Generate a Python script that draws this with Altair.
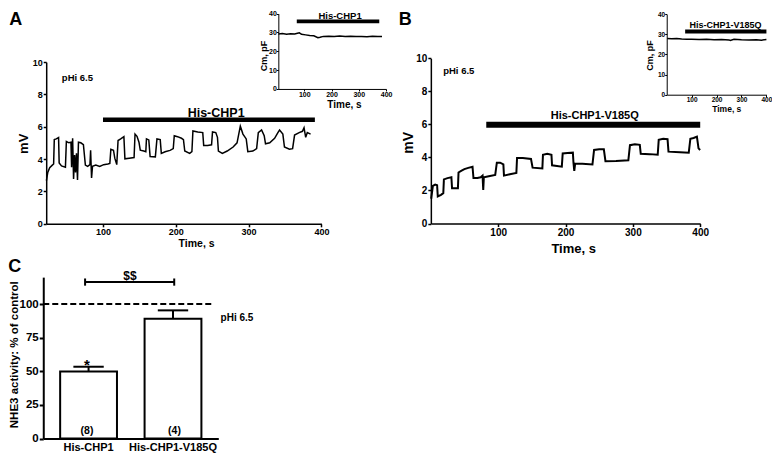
import altair as alt
import pandas as pd

# ---------------- data ----------------
# Panel A: membrane potential trace (time s, mV)
a_trace = [
    (22.3, 2.67), (24.1, 3.17), (26.8, 3.47), (30.4, 3.63), (32.2, 3.70), (33.1, 5.21), (35.8, 5.25), (39.0, 5.33), (39.8, 3.76), (43.0, 3.58),
    (48.4, 3.50), (49.7, 5.09), (53.3, 5.01), (56.0, 5.05), (56.9, 3.50), (58.3, 5.29), (59.6, 2.77), (61.0, 4.26), (62.3, 3.17), (63.6, 4.36),
    (65.0, 2.71), (66.3, 5.05), (69.5, 5.01), (73.1, 4.89), (75.8, 3.63), (78.9, 3.55), (82.1, 3.66), (83.0, 4.55), (84.3, 2.83), (85.6, 3.56),
    (90.1, 3.63), (95.5, 3.55), (100.9, 3.66), (106.7, 3.70), (109.4, 3.74), (110.8, 4.61), (114.4, 4.55), (116.2, 4.06), (118.9, 3.66), (120.7, 5.15),
    (124.3, 5.25), (128.7, 5.39), (130.1, 4.02), (136.0, 4.06), (142.7, 4.10), (144.0, 5.55), (146.7, 5.41), (149.4, 5.05), (151.2, 4.55), (156.1, 4.50),
    (158.8, 4.46), (159.7, 5.25), (162.9, 5.19), (164.7, 4.16), (171.9, 4.14), (174.1, 5.25), (178.6, 5.21), (180.1, 4.36), (185.3, 4.46), (192.1, 4.54),
    (196.5, 4.65), (197.9, 5.45), (202.4, 5.39), (207.8, 5.29), (210.5, 5.21), (212.3, 4.50), (219.0, 4.36), (222.1, 4.46), (223.5, 5.74), (230.2, 5.68),
    (237.0, 5.64), (238.3, 4.85), (243.7, 4.85), (249.1, 4.89), (250.4, 5.68), (254.9, 5.64), (257.2, 5.35), (258.5, 4.50), (263.9, 4.36), (270.6, 4.50),
    (278.7, 4.75), (284.1, 5.01), (288.6, 6.04), (292.2, 5.55), (296.7, 5.25), (298.9, 4.46), (305.7, 4.50), (311.0, 4.65), (313.3, 5.64), (317.8, 5.80),
    (321.4, 5.45), (323.2, 4.95), (329.0, 5.01), (335.7, 5.29), (340.2, 5.64), (342.5, 5.80), (347.0, 5.55), (349.2, 4.75), (356.0, 4.61), (360.4, 4.65),
    (363.1, 5.49), (369.4, 5.64), (373.9, 5.72), (376.1, 5.94), (378.4, 5.35), (380.6, 5.64), (385.1, 5.55),
]
# Panel A inset: membrane capacitance (time s, pF)
a_cm_time = [5, 20, 35, 50, 65, 75, 82, 90, 105, 120, 135, 150, 158, 170, 190, 210, 230, 250, 270, 290, 310, 330, 350, 370, 385]
a_cm_vals = [29.2, 29.4, 29.1, 29.3, 29.2, 29.6, 29.8, 29.0, 28.7, 28.4, 28.2, 27.2, 27.4, 27.9, 28.0, 27.9, 28.1, 27.8, 28.0, 27.8, 27.9, 27.7, 28.0, 27.8, 27.9]

# Panel B: membrane potential trace (time s, mV)
b_trace = [
    (0.5, 1.50), (3.0, 2.28), (6.4, 2.36), (9.3, 2.32), (10.3, 1.64), (15.1, 1.74), (18.5, 1.84), (19.4, 2.67), (24.7, 2.75), (30.5, 2.80),
    (31.5, 2.13), (40.2, 2.13), (41.1, 3.09), (45.0, 3.19), (49.8, 3.29), (55.6, 3.37), (61.9, 3.44), (63.3, 2.75), (69.1, 2.75), (74.0, 2.80),
    (76.8, 2.90), (77.8, 2.03), (78.7, 2.80), (86.0, 2.86), (95.6, 2.94), (98.0, 3.68), (102.9, 3.68), (107.7, 3.58), (108.6, 2.90), (117.3, 2.98),
    (127.0, 3.06), (128.0, 3.97), (136.6, 3.97), (148.7, 3.91), (151.1, 3.38), (165.6, 3.33), (166.5, 4.16), (172.8, 4.22), (179.1, 4.16), (180.0, 3.52),
    (194.5, 3.44), (195.8, 4.24), (203.0, 4.27), (210.9, 4.29), (211.8, 3.68), (213.0, 3.19), (214.3, 3.62), (225.0, 3.62), (240.0, 3.58), (242.4, 4.45),
    (250.0, 4.49), (256.9, 4.49), (259.3, 3.77), (275.0, 3.79), (293.3, 3.83), (295.7, 4.74), (303.0, 4.80), (310.3, 4.76), (311.7, 4.22), (325.0, 4.20),
    (336.9, 4.16), (338.4, 5.07), (345.0, 5.13), (351.5, 5.10), (352.9, 4.35), (370.0, 4.31), (383.0, 4.29), (385.4, 5.13), (390.2, 5.18), (395.1, 5.26),
    (397.5, 4.55), (399.9, 4.45),
]
# Panel B inset: membrane capacitance (time s, pF)
b_cm_time = [2, 20, 40, 60, 80, 100, 130, 160, 190, 220, 250, 255, 270, 300, 330, 360, 380, 400]
b_cm_vals = [27.9, 27.8, 27.9, 27.7, 27.6, 27.6, 27.4, 27.5, 27.3, 27.4, 27.2, 26.9, 27.5, 27.3, 27.2, 27.3, 27.1, 27.4]

# treatment periods (start s, end s)
a_treat = [100, 391]
a_cm_treat = [72.6, 375]
b_treat = [82.3, 400]
b_cm_treat = [74, 400]

# Panel C: NHE3 activity, % of control
c_groups = ["His-CHP1", "His-CHP1-V185Q"]
c_mean = [49.9, 89.1]
c_sem = [3.5, 6.2]
c_n = ["(8)", "(4)"]
c_sig = ["*", ""]
control_level = [100]

# ---------------- layout helpers ----------------
W, H = 764, 445
SX, SY = W / 780.0, 441 / 460.0
OY = 3
FONT = "Liberation Sans"


def px(v):
    return v * SX


def py(v):
    return OY + v * SY


def qscale(domain, r0, r1, f):
    return alt.Scale(domain=domain, range=[f(r0), f(r1)], zero=False, nice=False)


def x_axis(values, axis_y, lsize, lw, title, tx, ty, tsize, tick=3, lpad=1):
    return alt.Axis(orient="bottom", offset=py(axis_y) - H, values=values,
                    tickSize=tick, tickWidth=lw, tickColor="black",
                    domainColor="black", domainWidth=lw,
                    labelFont=FONT, labelFontSize=lsize, labelFontWeight="bold", labelColor="black",
                    labelPadding=lpad, labelFlush=False, labelOverlap=False, grid=False,
                    title=title, titleFont=FONT, titleFontSize=tsize, titleFontWeight="bold",
                    titleColor="black", titleX=px(tx), titleY=py(ty) - py(axis_y),
                    titleAlign="center", titleBaseline="middle", titleAngle=0)


def y_axis(values, axis_x, lsize, lw, title, tx, ty, tsize, tick=3, lpad=1):
    return alt.Axis(orient="left", offset=-px(axis_x), values=values,
                    tickSize=tick, tickWidth=lw, tickColor="black",
                    domainColor="black", domainWidth=lw,
                    labelFont=FONT, labelFontSize=lsize, labelFontWeight="bold", labelColor="black",
                    labelPadding=lpad, labelOverlap=False, grid=False,
                    title=title, titleFont=FONT, titleFontSize=tsize, titleFontWeight="bold",
                    titleColor="black", titleX=px(tx) - px(axis_x), titleY=py(ty),
                    titleAlign="center", titleBaseline="middle", titleAngle=270)


def text_mark(s, x, y, size, align="center", baseline="middle"):
    return alt.Chart(pd.DataFrame({"s": [s]})).mark_text(
        font=FONT, fontSize=size, fontWeight="bold", color="black",
        align=align, baseline=baseline
    ).encode(x=alt.value(px(x)), y=alt.value(py(y)), text="s:N")


def trace_panel(times, vals, xs, ys, xax, yax, width):
    df = pd.DataFrame({"t": times, "v": vals})
    return alt.Chart(df).mark_line(color="black", strokeWidth=width).encode(
        x=alt.X("t:Q", scale=xs, axis=xax),
        y=alt.Y("v:Q", scale=ys, axis=yax),
    )


def treat_bar(period, xs, ypix, thick):
    df = pd.DataFrame({"s": [period[0]], "e": [period[1]]})
    return alt.Chart(df).mark_rule(color="black", strokeWidth=thick, strokeCap="butt").encode(
        x=alt.X("s:Q", scale=xs, axis=None), x2="e:Q", y=alt.value(py(ypix)))


layers = []

# ---------------- Panel A main ----------------
a_xs = qscale([22, 400], 39, 320, px)
a_ys = qscale([0, 10], 222, 53.3, py)
layers.append(trace_panel([p[0] for p in a_trace], [p[1] for p in a_trace], a_xs, a_ys,
                          x_axis([100, 200, 300, 400], 222, 9, 1.5, "Time, s", 192, 242.5, 10.5),
                          y_axis([0, 2, 4, 6, 8, 10], 39, 9, 1.5, "mV", 16, 138, 13), 1.5))
layers.append(treat_bar(a_treat, a_xs, 113.5, 4.5))
layers.append(text_mark("His-CHP1", 212.5, 106.5, 12.5))
layers.append(text_mark("pHi 6.5", 55, 70, 9.5, align="left"))

# ---------------- Panel A inset ----------------
ai_xs = qscale([5, 400], 276, 386, px)
ai_ys = qscale([0, 40], 81.3, 2.7, py)
layers.append(trace_panel(a_cm_time, a_cm_vals, ai_xs, ai_ys,
                          x_axis([100, 200, 300, 400], 81.3, 7, 1, "Time, s", 343, 97.5, 10, tick=2, lpad=0),
                          y_axis([0, 10, 20, 30, 40], 276, 7, 1, "Cm, pF", 260.5, 46.5, 9, tick=2, lpad=0), 1.5))
layers.append(treat_bar(a_cm_treat, ai_xs, 10.8, 3.7))
layers.append(text_mark("His-CHP1", 339, 4.8, 9.5))

# ---------------- Panel B main ----------------
b_xs = qscale([0, 400], 431.7, 706.7, px)
b_ys = qscale([0, 10], 221.7, 49.3, py)
layers.append(trace_panel([p[0] for p in b_trace], [p[1] for p in b_trace], b_xs, b_ys,
                          x_axis([100, 200, 300, 400], 221.7, 10, 1.5, "Time, s", 577, 248, 13),
                          y_axis([0, 2, 4, 6, 8, 10], 431.7, 10, 1.5, "mV", 408.5, 137, 14), 2))
layers.append(treat_bar(b_treat, b_xs, 118.7, 6))
layers.append(text_mark("His-CHP1-V185Q", 599, 110, 11))
layers.append(text_mark("pHi 6.5", 444.3, 62.7, 9.5, align="left"))

# ---------------- Panel B inset ----------------
bi_xs = qscale([0, 400], 672.5, 774.3, px)
bi_ys = qscale([0, 40], 87.3, 3.3, py)
layers.append(trace_panel(b_cm_time, b_cm_vals, bi_xs, bi_ys,
                          x_axis([100, 200, 300, 400], 87.3, 6.5, 1, "Time, s", 733.3, 101.8, 8.5, tick=2, lpad=0),
                          y_axis([0, 10, 20, 30, 40], 672.5, 6.5, 1, "Cm, pF", 655, 46, 9, tick=2, lpad=0), 1.5))
layers.append(treat_bar(b_cm_treat, bi_xs, 21.5, 4))
layers.append(text_mark("His-CHP1-V185Q", 732.5, 14.5, 9))

# ---------------- Panel C ----------------
c_df = pd.DataFrame({"group": c_groups, "mean": c_mean, "sem": c_sem, "n": c_n, "sig": c_sig})
c_df["upper"] = c_df["mean"] + c_df["sem"]


def c_x(axis=None):
    return alt.X("group:N", sort=c_groups,
                 scale=alt.Scale(domain=c_groups, range=[px(36), px(214.7)],
                                 paddingInner=0.327, paddingOuter=0.2),
                 axis=axis)


c_ys = qscale([0, 120], 446, 277.6, py)
c_xaxis = alt.Axis(orient="bottom", offset=py(446) - H, ticks=False, domainColor="black", domainWidth=2,
                   labelFont=FONT, labelFontSize=11, labelFontWeight="bold", labelColor="black",
                   labelPadding=3, labelAngle=0, labelOverlap=False, grid=False, title=None)
c_yaxis = y_axis([0, 25, 50, 75, 100], 36, 11.5, 2, "NHE3 activity: % of control", 7, 358, 11.5, tick=4)

layers.append(alt.Chart(c_df).mark_bar(fill="white", stroke="black", strokeWidth=2).encode(
    x=c_x(c_xaxis), y=alt.Y("mean:Q", scale=c_ys, axis=c_yaxis)))
layers.append(alt.Chart(c_df).mark_rule(color="black", strokeWidth=2).encode(
    x=c_x(), y=alt.Y("mean:Q", scale=c_ys, axis=None), y2="upper:Q"))
layers.append(alt.Chart(c_df).mark_tick(color="black", thickness=2, size=px(31), opacity=1).encode(
    x=c_x(), y=alt.Y("upper:Q", scale=c_ys, axis=None)))
layers.append(alt.Chart(c_df).mark_text(font=FONT, fontSize=10.5, fontWeight="bold", color="black").encode(
    x=c_x(), y=alt.value(py(438)), text="n:N"))
layers.append(alt.Chart(c_df).mark_text(font=FONT, fontSize=15, fontWeight="bold", color="black",
                                        baseline="alphabetic").encode(
    x=c_x(), y=alt.value(py(374)), text="sig:N"))
layers.append(alt.Chart(pd.DataFrame({"ref": control_level})).mark_rule(
    color="black", strokeWidth=2, strokeDash=[6, 3]).encode(
    x=alt.value(px(36)), x2=alt.value(px(210)), y=alt.Y("ref:Q", scale=c_ys, axis=None)))
# significance bracket
layers.append(alt.Chart(pd.DataFrame({"k": [0]})).mark_rule(color="black", strokeWidth=2).encode(
    x=alt.value(px(78.7)), x2=alt.value(px(169.7)), y=alt.value(py(282.7))))
for bx in (78.7, 169.7):
    layers.append(alt.Chart(pd.DataFrame({"k": [0]})).mark_rule(color="black", strokeWidth=2).encode(
        x=alt.value(px(bx)), y=alt.value(py(279)), y2=alt.value(py(286.5))))
layers.append(text_mark("$$", 124.5, 276, 12))
layers.append(text_mark("pHi 6.5", 217, 320, 10, align="left"))

# ---------------- panel letters ----------------
layers.append(text_mark("A", 8, 9, 18))
layers.append(text_mark("B", 405.5, 9, 18))
layers.append(text_mark("C", 7, 267, 18))

chart = alt.layer(*layers).resolve_scale(x="independent", y="independent").properties(
    width=W, height=H, autosize=alt.AutoSizeParams(type="none"), padding=0, background="white"
).configure_view(strokeWidth=0)

chart.save("out.html", embed_options={"renderer": "svg", "actions": False})
